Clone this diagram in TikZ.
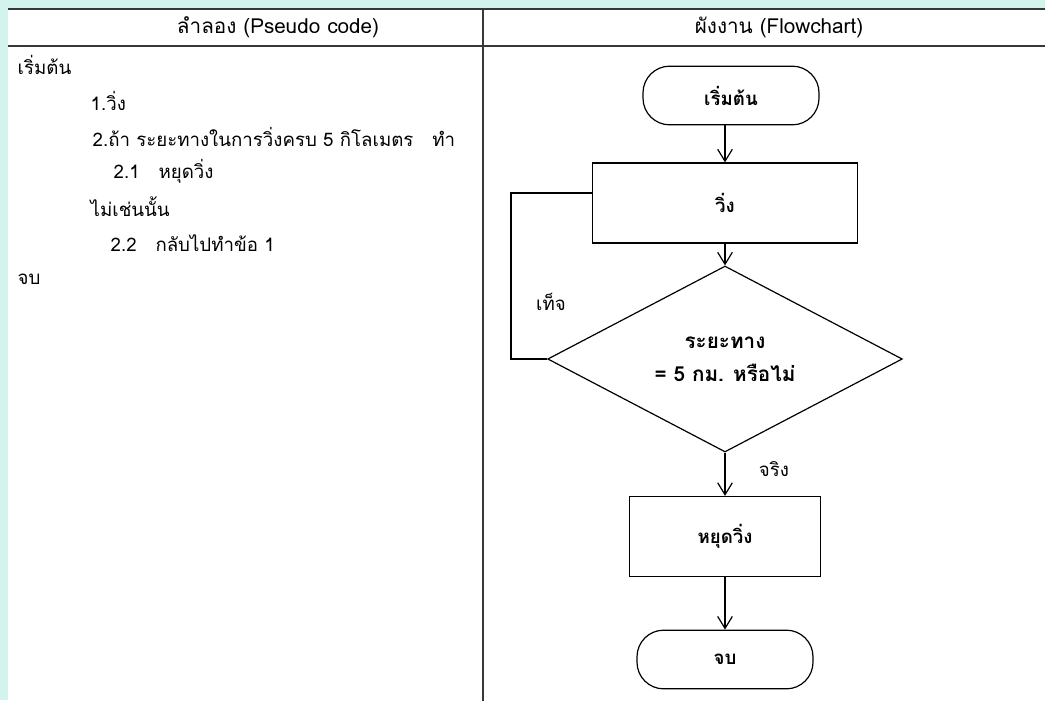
\documentclass[tikz,border=0pt]{standalone}
\usepackage{fontspec}
\newfontfamily\thaifont[Script=Thai]{Loma}
\usetikzlibrary{shapes.geometric, arrows.meta, positioning}
\definecolor{bgcyan}{RGB}{211,244,237}
\definecolor{rulegray}{RGB}{55,55,55}

\begin{document}
\begin{tikzpicture}[x=0.75pt, y=-0.75pt,
        every node/.style={font=\thaifont\fontsize{14}{16}\selectfont},
        header/.style={font=\thaifont\fontsize{15.5}{18}\selectfont},
        bold/.style={font=\thaifont\bfseries\fontsize{14}{16}\selectfont},
        terminal/.style={bold, draw, line width=0.9pt, rounded corners=20pt,
            minimum width=132pt, minimum height=44pt},
        process/.style={bold, draw, line width=0.9pt, minimum height=60pt},
        decision/.style={draw, line width=0.9pt, diamond, inner sep=0pt,
            minimum width=266pt, minimum height=127pt, align=center,
            font=\thaifont\bfseries\fontsize{15.5}{18}\selectfont},
        flow/.style={line width=0.9pt, -{Straight Barb[length=9pt, width=11pt]}},
        tablerule/.style={line width=1.4pt, rulegray}
    ]
        % Page and table frame
        \useasboundingbox (0,0) rectangle (1045,700);
        \fill[bgcyan] (0,0) rectangle (1045,700);
        \fill[white] (8,9) rectangle (1046,701);
        \draw[tablerule] (8,9) -- (1045,9);
        \draw[tablerule] (8,46) -- (1045,46);
        \draw[tablerule] (483,9) -- (483,701);

        % Header
        \node[header] (hpseudo) at (278,27) {ลำลอง (Pseudo code)};
        \node[header] (hflow) at (779,27) {ผังงาน (Flowchart)};

        % Pseudo code
        \node[anchor=west] (p0) at (13,65) {เริ่มต้น};
        \node[anchor=west] (p1) at (86,101) {1.วิ่ง};
        \node[anchor=west] (p2) at (88,137) {2.ถ้า ระยะทางในการวิ่งครบ 5 กิโลเมตร \ \ ทำ};
        \node[anchor=west] (p21) at (109,171) {2.1 \ \ หยุดวิ่ง};
        \node[anchor=west] (p3) at (86,207) {ไม่เช่นนั้น};
        \node[anchor=west] (p22) at (106,243) {2.2 \ \ กลับไปทำข้อ 1};
        \node[anchor=west] (p4) at (13,279) {จบ};

        % Flowchart
        \node[terminal] (start) at (731,95.5) {เริ่มต้น};
        \node[process, minimum width=199pt] (run) at (725,203) {วิ่ง};
        \node[decision] (cond) at (725,359) {ระยะทาง\\[7pt]= 5 กม. หรือไม่};
        \node[process, minimum width=143pt] (stop) at (725,536.5) {หยุดวิ่ง};
        \node[terminal] (end) at (725,659.5) {จบ};
        \coordinate (loop) at (511,193);

        \draw[flow] (run.north |- start.south) -- (run.north);
        \draw[flow] (run.south) -- (cond.north);
        \draw[flow] (cond.south) -- (stop.north);
        \draw[flow] (stop.south) -- (end.north);
        \draw[line width=0.9pt] (cond.west) -| (loop) -- (loop -| run.west);

        % Branch labels
        \node (nfalse) at (551,302) {เท็จ};
        \node (ntrue) at (774,469) {จริง};
    \end{tikzpicture}
\end{document}
